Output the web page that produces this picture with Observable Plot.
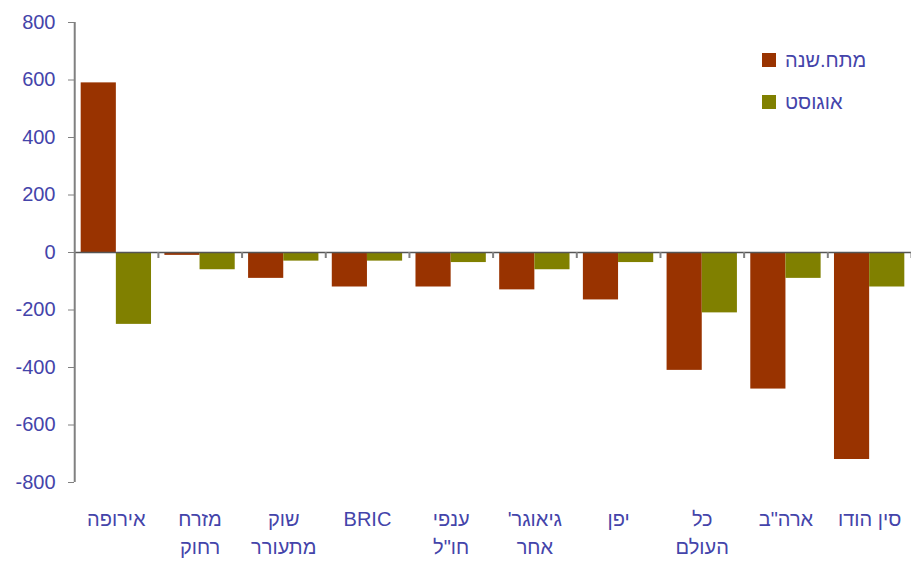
<!DOCTYPE html>
<html>
<head>
<meta charset="utf-8">
<script src="https://cdn.jsdelivr.net/npm/d3@7"></script>
<script src="https://cdn.jsdelivr.net/npm/@observablehq/plot@0.6"></script>
<style>
  html, body { margin: 0; padding: 0; background: #fff; }
  #wrap { position: relative; width: 911px; height: 561px; font-family: "Liberation Sans", Arial, sans-serif; }
  #legend { position: absolute; left: 762px; top: 50px; font-size: 20px; color: #4444aa; }
  .li { display: flex; align-items: center; height: 20px; margin-bottom: 22px; }
  .sw { width: 14px; height: 14px; margin-right: 9px; }
</style>
</head>
<body>
<div id="wrap"><div id="legend"></div></div>
<script>
const categories = ["אירופה", "מזרח\nרחוק", "שוק\nמתעורר", "BRIC", "ענפי\nחו\"ל", "גיאוגר'\u200F\nאחר", "יפן", "כל\nהעולם", "ארה\"ב", "סין הודו"];
const seriesNames = ["מתח.שנה", "אוגוסט"];
const ytdValues = [590, -10, -90, -120, -120, -130, -165, -410, -475, -720];
const augValues = [-250, -60, -30, -30, -35, -60, -35, -210, -90, -120];
const yTicks = [-800, -600, -400, -200, 0, 200, 400, 600, 800];
const seriesColors = ["#993300", "#808000"];

const textColor = "#4444aa";
const axisGrey = "#808080";

const data = categories.flatMap((c, i) => [
  {cat: c, s: seriesNames[0], v: ytdValues[i]},
  {cat: c, s: seriesNames[1], v: augValues[i]}
]);

const chart = Plot.plot({
  width: 911,
  height: 561,
  marginLeft: 74,
  marginRight: 0,
  marginTop: 22,
  marginBottom: 79,
  style: {fontFamily: "'Liberation Sans', Arial, sans-serif", background: "transparent"},
  fx: {domain: categories, padding: 0, round: false, label: null},
  x: {domain: seriesNames, paddingInner: 0, paddingOuter: 0.19, round: false, axis: null},
  y: {domain: [-800, 800], label: null},
  color: {domain: seriesNames, range: seriesColors},
  marks: [
    Plot.barY(data, {fx: "cat", x: "s", y: "v", fill: "s", inset: 0}),
    Plot.ruleY([0], {stroke: "#555", strokeWidth: 1.5}),
    Plot.axisY(yTicks, {tickSize: 6, tickPadding: 13, stroke: axisGrey, fill: textColor, fontSize: 20, label: null, tickFormat: d => String(d)}),
    Plot.axisFx({anchor: "bottom", tickSize: 0, tickPadding: 24, fill: textColor, fontSize: 20, lineHeight: 1.4, label: null})
  ]
});

document.getElementById("wrap").insertBefore(chart, document.getElementById("legend"));

// axis line and category separators, placed from the plot's own rendered scales
const svg = d3.select(chart);
const svgRect = chart.getBoundingClientRect();
const yDesc = chart.scale("y");
const yS = d3.scaleLinear(yDesc.domain, yDesc.range);
// centers of the category bands, from the fx axis labels Plot drew
const labelNodes = Array.from(chart.querySelectorAll("g[aria-label='fx-axis tick label'] text"));
const centers = labelNodes.map(t => {
  const r = t.getBoundingClientRect();
  return r.left + r.width / 2 - svgRect.left;
}).sort((a, b) => a - b);
if (centers.length > 1) {
  const step = (centers[centers.length - 1] - centers[0]) / (centers.length - 1);
  const x0 = centers[0] - step / 2;
  svg.append("line")
    .attr("x1", x0).attr("x2", x0)
    .attr("y1", yS(800)).attr("y2", yS(-800))
    .attr("stroke", axisGrey).attr("stroke-width", 2);
  for (let i = 1; i <= centers.length; i++) {
    const xe = centers[0] - step / 2 + i * step;
    svg.append("line")
      .attr("x1", xe).attr("x2", xe)
      .attr("y1", yS(0)).attr("y2", yS(0) + 6)
      .attr("stroke", axisGrey).attr("stroke-width", 2);
  }
}

// legend
const legend = d3.select("#legend");
seriesNames.forEach((n, i) => {
  const row = legend.append("div").attr("class", "li");
  row.append("div").attr("class", "sw").style("background", seriesColors[i]);
  row.append("span").text(n);
});
</script>
</body>
</html>
